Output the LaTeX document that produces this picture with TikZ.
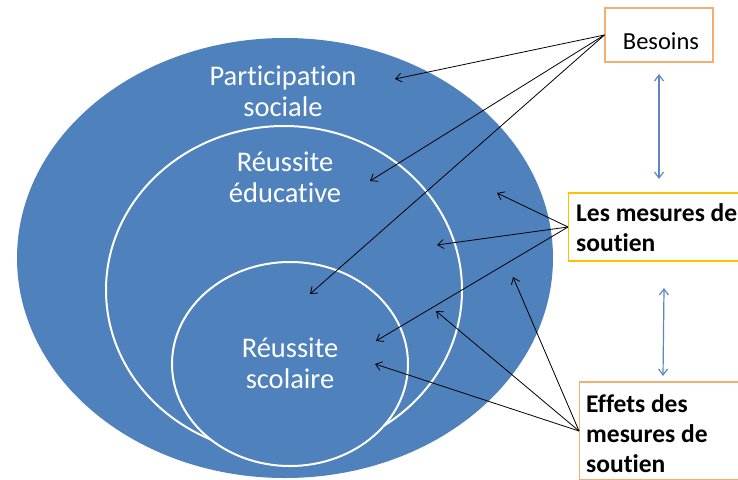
\documentclass[tikz,border=0pt]{standalone}
\usepackage{fontspec}
\setmainfont{Carlito}[RawFeature={-liga;-clig;-calt;-dlig}]
\usetikzlibrary{arrows.meta,calc}
\definecolor{blu}{HTML}{4F81BD}
\definecolor{orb}{HTML}{F5AE72}
\definecolor{yel}{HTML}{FFC000}
\definecolor{arrblue}{HTML}{5B87C5}
\tikzset{
  circtext/.style={text=white, align=center, inner sep=0pt, font=\fontsize{28.5}{31}\selectfont},
  boxtext/.style={align=left, inner sep=0pt, anchor=north west, font=\bfseries\fontsize{25.5}{30}\selectfont},
  ring/.style={draw=white, line width=2, fill=blu},
  frame/.style={fill=white, line width=1.2, inner sep=0pt},
  arr/.style={draw=black, line width=0.8, -{Straight Barb[length=6,width=9]}},
  barr/.style={draw=arrblue, line width=1.2, {Straight Barb[length=6,width=9]}-{Straight Barb[length=6,width=9]}}
}
\begin{document}
\begin{tikzpicture}[x=1pt,y=-1pt]
\clip (0,0) rectangle (738,479);
\fill[white] (0,0) rectangle (738,479);
% ellipses
\fill[blu] (285,258) ellipse [x radius=268, y radius=220];
\draw[ring] (284,290) ellipse [x radius=178, y radius=164];
\draw[ring] (290,364) ellipse [x radius=118, y radius=102];
% ellipse texts
\node[circtext] (ps) at (283,91) {Participation\\sociale};
\node[circtext] (re) at (285,177) {Réussite\\éducative};
\node[circtext] (rs) at (290,363) {Réussite\\scolaire};
% boxes
\node[frame, draw=orb, minimum width=108, minimum height=54] (bes) at (659,35) {};
\node[inner sep=0pt, font=\fontsize{24.5}{28}\selectfont] (bestext) at (661,41) {Besoins};
\node[frame, draw=yel, minimum width=200, minimum height=68, anchor=west] (mes) at (568,227) {};
\node[boxtext] (mestext) at (576,203) {Les mesures de\\soutien};
\node[frame, draw=orb, minimum width=200, minimum height=98, anchor=west] (eff) at (579,431) {};
\node[boxtext] (efftext) at (586,394) {Effets des\\mesures de\\soutien};
% arrow targets
\coordinate (b1) at (395,79);
\coordinate (b2) at (370,181);
\coordinate (b3) at (310,294);
\coordinate (m1) at (497,193);
\coordinate (m2) at (437,245);
\coordinate (m3) at (376,341);
\coordinate (e1) at (513,277);
\coordinate (e2) at (436,311);
\coordinate (e3) at (375,364);
\foreach \t in {b1,b2,b3} \draw[arr] (bes.west) -- (\t);
\foreach \t in {m1,m2,m3} \draw[arr] (mes.west) -- (\t);
\foreach \t in {e1,e2,e3} \draw[arr] (eff.west) -- (\t);
% blue double arrows
\coordinate (u1) at (659,74);
\coordinate (u2) at (659,179);
\coordinate (v1) at (664,288);
\coordinate (v2) at (663,376);
\draw[barr] (u1) -- (u2);
\draw[barr] (v1) -- (v2);
\end{tikzpicture}
\end{document}
